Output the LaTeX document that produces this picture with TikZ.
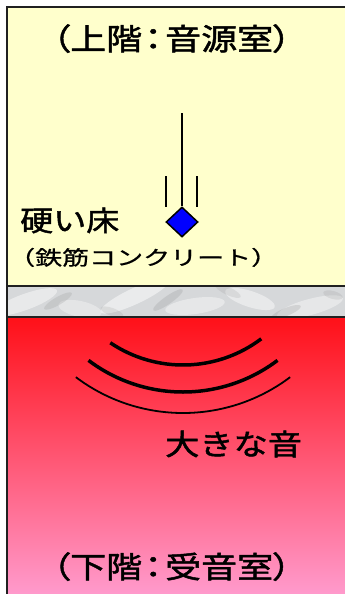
\documentclass[tikz,border=0pt]{standalone}
\usepackage{fontspec}
\newfontfamily\jp{Noto Sans CJK JP}[FakeStretch=1.18,FakeBold=1.6]
\newfontfamily\jpp{Noto Sans CJK JP}[FakeStretch=1.2,FakeBold=1.6,RawFeature=+palt]
\newfontfamily\jpw{Noto Sans CJK JP}[FakeStretch=1.35,FakeBold=0.8]
\usetikzlibrary{shapes.geometric}
\definecolor{roomyellow}{HTML}{FFFFCC}
\definecolor{redtop}{HTML}{FF1018}
\definecolor{redmid}{HTML}{FF6C8A}
\definecolor{pinkbot}{HTML}{FF9ACC}
\definecolor{marble}{HTML}{D6D8DA}
\definecolor{edge}{HTML}{202020}
\begin{document}
\begin{tikzpicture}[x=1pt,y=-1pt,
  roomlabel/.style={anchor=base west,inner sep=0pt,font=\jpp\fontsize{30}{32}\selectfont},
  floorlabel/.style={anchor=base west,inner sep=0pt,font=\jp\fontsize{28}{30}\selectfont},
  sublabel/.style={anchor=base west,inner sep=0pt,font=\jpw\fontsize{20}{22}\selectfont},
  soundlabel/.style={anchor=base west,inner sep=0pt,font=\jp\fontsize{29}{31}\selectfont},
  wave/.style={line width=3.5pt},
  fallline/.style={line width=2pt},
  border/.style={line width=2pt,edge}]
\useasboundingbox (0,0) rectangle (345,594);
\fill[white] (0,0) rectangle (345,594);
% upper room
\fill[roomyellow] (7,7) rectangle (345,286);
% marble slab
\fill[marble] (7,286) rectangle (345,317);
\begin{scope}
  \clip (7,286) rectangle (345,317);
  \foreach \x/\y/\a/\r/\o in {25/302/20/34/0.45,80/309/-12/22/0.35,135/296/25/38/0.5,195/306/8/30/0.4,250/299/-18/26/0.45,310/307/15/34/0.4}{
    \fill[white,opacity=\o,rotate around={\a:(\x,\y)}] (\x,\y) ellipse [x radius=\r, y radius=8];
  }
  \foreach \x/\y/\a/\r/\o in {58/301/30/16/0.18,112/312/-20/12/0.15,168/300/35/18/0.2,228/291/-25/14/0.15,286/312/22/16/0.2,333/295/-15/10/0.15}{
    \fill[gray,opacity=\o,rotate around={\a:(\x,\y)}] (\x,\y) ellipse [x radius=\r, y radius=4];
  }
\end{scope}
% lower room
\shade[top color=redtop,middle color=redmid,bottom color=pinkbot] (7,317) rectangle (345,594);
% borders
\draw[border] (7,594) -- (7,7) -- (345,7);
\draw[border] (7,286) -- (345,286);
\draw[border] (7,317) -- (345,317);
% labels
\node[roomlabel] (up) at (52,50) {（上階\kern2pt：\kern3pt音源室）};
\node[floorlabel] (floor) at (20,231) {硬い床};
\node[sublabel] (rc) at (8,265) {（鉄筋コンクリート）};
\node[soundlabel] (loud) at (165,455) {大きな音};
\node[roomlabel] (down) at (52,578) {（下階\kern2pt：\kern3pt受音室）};
% falling object
\node[diamond,draw=black,line width=1.5pt,fill=blue,minimum width=32pt,minimum height=30pt,inner sep=0pt] (obj) at (182,222) {};
\coordinate (ltop) at (182,113);
\coordinate (sl1) at (166,176);
\coordinate (sl2) at (166,207);
\coordinate (sr1) at (197,176);
\coordinate (sr2) at (197,207);
\draw[fallline] (ltop) -- (obj.north);
\draw[fallline] (sl1) -- (sl2);
\draw[fallline] (sr1) -- (sr2);
% sound waves
\coordinate (wc) at (183,235);
\draw[wave] (wc) ++(124:130) arc[start angle=124,end angle=53,radius=130];
\draw[wave] (wc) ++(127:157) arc[start angle=127,end angle=53,radius=157];
\draw[line width=1.8pt] (wc) ++(127:178) arc[start angle=127,end angle=53,radius=178];
\end{tikzpicture}
\end{document}
